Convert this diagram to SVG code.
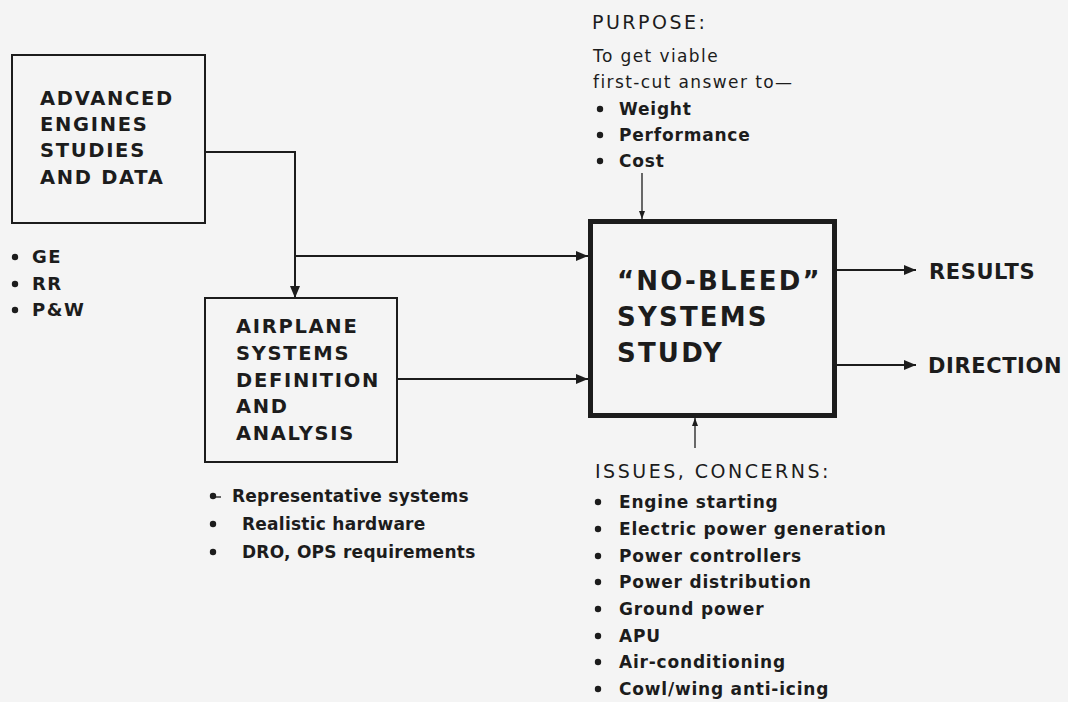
<svg xmlns="http://www.w3.org/2000/svg" width="1068" height="702" viewBox="0 0 1068 702">
<defs>
<style>
text{font-family:"DejaVu Sans","Liberation Sans",sans-serif;fill:#1c1c1c}
.boxt{font-size:19.5px;font-weight:bold;letter-spacing:1.7px}
.main{font-size:26px;font-weight:bold;letter-spacing:2.2px}
.out{font-size:21px;font-weight:bold;letter-spacing:0.6px}
.cap{font-size:19px;letter-spacing:2.5px}
.reg{font-size:17px;letter-spacing:1.4px}
.item{font-size:17px;font-weight:bold;letter-spacing:0.8px}
.item2{font-size:17px;font-weight:bold;letter-spacing:0.25px}
.lbl{font-size:18px;font-weight:bold;letter-spacing:1.5px}
.bx{fill:none;stroke:#1c1c1c;stroke-width:2}
.ln{fill:none;stroke:#1c1c1c;stroke-width:2}
.thin{fill:none;stroke:#1c1c1c;stroke-width:1.3}
.dot{fill:#1c1c1c}
</style>
<marker id="ah" markerUnits="userSpaceOnUse" markerWidth="14" markerHeight="12" refX="12" refY="5" orient="auto"><path d="M0,0 L12,5 L0,10 Z" fill="#1c1c1c"/></marker>
<marker id="as" markerUnits="userSpaceOnUse" markerWidth="10" markerHeight="8" refX="8" refY="3" orient="auto"><path d="M0,0 L8,3 L0,6 Z" fill="#1c1c1c"/></marker>
</defs>
<rect width="1068" height="702" fill="#f4f4f4"/>

<g id="connectors">
<path class="ln" d="M205,152 H295 V298" marker-end="url(#ah)"/>
<path class="ln" d="M295,256 H588" marker-end="url(#ah)"/>
<path class="ln" d="M397,379 H588" marker-end="url(#ah)"/>
<path class="thin" d="M642,173 V219" marker-end="url(#as)"/>
<path class="thin" d="M695,448 V418" marker-end="url(#as)"/>
<path class="ln" d="M837,270 H916" marker-end="url(#ah)"/>
<path class="ln" d="M837,365 H916" marker-end="url(#ah)"/>
</g>

<g id="advanced-engines">
<rect class="bx" x="12" y="55" width="193" height="168"/>
<text class="boxt" x="40" y="105">ADVANCED</text>
<text class="boxt" x="40" y="131">ENGINES</text>
<text class="boxt" x="40" y="157">STUDIES</text>
<text class="boxt" x="40" y="184">AND DATA</text>
</g>

<g id="engine-makers">
<circle class="dot" cx="15" cy="257" r="3.2"/>
<circle class="dot" cx="15" cy="284" r="3.2"/>
<circle class="dot" cx="15" cy="310" r="3.2"/>
<text class="lbl" x="32" y="263">GE</text>
<text class="lbl" x="32" y="290">RR</text>
<text class="lbl" x="32" y="316">P&amp;W</text>
</g>

<g id="airplane-systems">
<rect class="bx" x="205" y="298" width="192" height="164"/>
<text class="boxt" x="236" y="333">AIRPLANE</text>
<text class="boxt" x="236" y="360">SYSTEMS</text>
<text class="boxt" x="236" y="387">DEFINITION</text>
<text class="boxt" x="236" y="413">AND</text>
<text class="boxt" x="236" y="440">ANALYSIS</text>
</g>

<g id="airplane-notes">
<circle class="dot" cx="213" cy="496" r="3.2"/>
<path class="thin" d="M215,497 H221"/>
<circle class="dot" cx="213" cy="524" r="3.2"/>
<circle class="dot" cx="213" cy="552" r="3.2"/>
<text class="item2" x="232" y="502">Representative systems</text>
<text class="item2" x="242" y="530">Realistic hardware</text>
<text class="item2" x="242" y="558">DRO, OPS requirements</text>
</g>

<g id="no-bleed-study">
<rect x="590.5" y="221.5" width="244" height="194" fill="none" stroke="#1c1c1c" stroke-width="5"/>
<text class="main" x="617" y="290">“NO-BLEED”</text>
<text class="main" x="617" y="326">SYSTEMS</text>
<text class="main" x="617" y="362">STUDY</text>
</g>

<g id="results">
<text class="out" x="929" y="279">RESULTS</text>
</g>
<g id="direction">
<text class="out" x="928" y="373">DIRECTION</text>
</g>

<g id="purpose">
<text class="cap" x="592" y="29">PURPOSE:</text>
<text class="reg" x="593" y="62">To get viable</text>
<text class="reg" x="593" y="88">first-cut answer to—</text>
<circle class="dot" cx="600" cy="109" r="3.2"/>
<circle class="dot" cx="600" cy="135" r="3.2"/>
<circle class="dot" cx="600" cy="161" r="3.2"/>
<text class="item" x="619" y="115">Weight</text>
<text class="item" x="619" y="141">Performance</text>
<text class="item" x="619" y="167">Cost</text>
</g>

<g id="issues">
<text class="cap" x="595" y="478">ISSUES, CONCERNS:</text>
<circle class="dot" cx="598" cy="502" r="3.2"/>
<circle class="dot" cx="598" cy="529" r="3.2"/>
<circle class="dot" cx="598" cy="556" r="3.2"/>
<circle class="dot" cx="598" cy="582" r="3.2"/>
<circle class="dot" cx="598" cy="609" r="3.2"/>
<circle class="dot" cx="598" cy="636" r="3.2"/>
<circle class="dot" cx="598" cy="662" r="3.2"/>
<circle class="dot" cx="598" cy="689" r="3.2"/>
<text class="item" x="619" y="508">Engine starting</text>
<text class="item" x="619" y="535">Electric power generation</text>
<text class="item" x="619" y="562">Power controllers</text>
<text class="item" x="619" y="588">Power distribution</text>
<text class="item" x="619" y="615">Ground power</text>
<text class="item" x="619" y="642">APU</text>
<text class="item" x="619" y="668">Air-conditioning</text>
<text class="item" x="619" y="695">Cowl/wing anti-icing</text>
</g>
</svg>
